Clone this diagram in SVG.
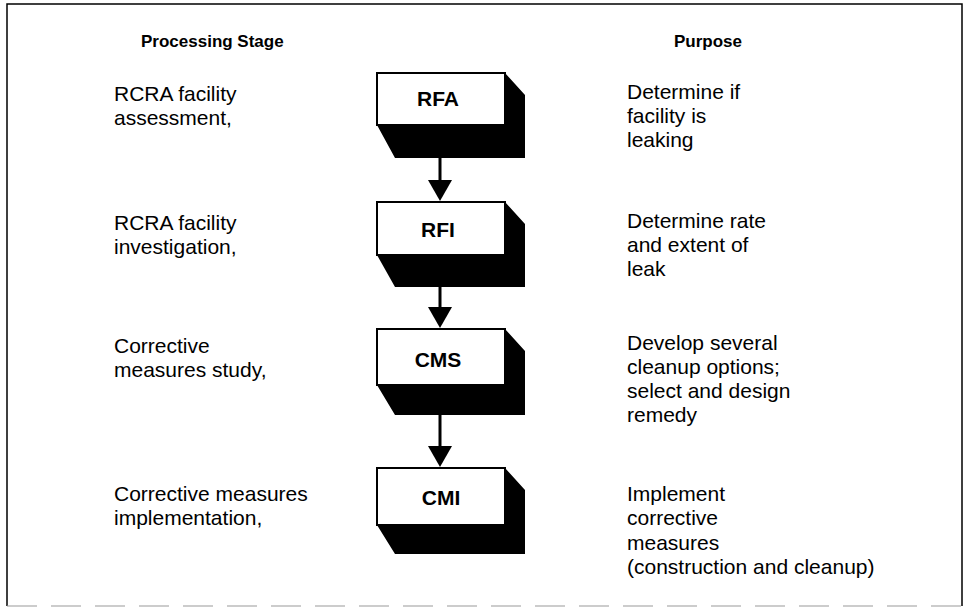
<svg xmlns="http://www.w3.org/2000/svg" width="965" height="609" viewBox="0 0 965 609">
<style>
.t{font-family:"Liberation Sans",Arial,sans-serif;font-size:21px;fill:#000}
.h{font-family:"Liberation Sans",Arial,sans-serif;font-size:17px;font-weight:bold;fill:#000}
.lb{font-family:"Liberation Sans",Arial,sans-serif;font-size:21px;font-weight:bold;fill:#000;text-anchor:middle}
.face{fill:#fff;stroke:#000;stroke-width:2}
.shade{fill:#000}
.conn line{stroke:#000;stroke-width:3}
.conn polygon{fill:#000}
</style>
<rect x="0" y="0" width="965" height="609" fill="#fff"/>
<g id="frame">
<path d="M7,606 L7,4 L962,4 L962,606" fill="none" stroke="#000" stroke-width="1.5"/>
<line x1="7" y1="606" x2="962" y2="606" stroke="#999" stroke-width="1.2" stroke-dasharray="30 14"/>
</g>
<g id="headers">
<text class="h" x="141" y="47">Processing Stage</text>
<text class="h" x="742" y="47" text-anchor="end">Purpose</text>
</g>
<g id="node-rfa">
<path class="shade" d="M377,125 L505,125 L505,73 L525,95 L525,158 L395,158 Z"/>
<rect class="face" x="377" y="73" width="128" height="52"/>
<text class="lb" x="438" y="106">RFA</text>
</g>
<g id="node-rfi">
<path class="shade" d="M377,255 L505,255 L505,202 L525,224 L525,287 L395,287 Z"/>
<rect class="face" x="377" y="202" width="128" height="53"/>
<text class="lb" x="438" y="237">RFI</text>
</g>
<g id="node-cms">
<path class="shade" d="M377,385 L505,385 L505,329 L525,351 L525,415 L395,415 Z"/>
<rect class="face" x="377" y="329" width="128" height="56"/>
<text class="lb" x="438" y="367">CMS</text>
</g>
<g id="node-cmi">
<path class="shade" d="M377,525 L505,525 L505,468 L525,490 L525,554 L395,554 Z"/>
<rect class="face" x="377" y="468" width="128" height="57"/>
<text class="lb" x="441" y="505">CMI</text>
</g>
<g id="connectors" class="conn">
<line x1="440" y1="158" x2="440" y2="182"/>
<polygon points="428,180 452,180 440,201"/>
<line x1="440" y1="287" x2="440" y2="309"/>
<polygon points="428,307 452,307 440,328"/>
<line x1="440" y1="415" x2="440" y2="448"/>
<polygon points="428,446 452,446 440,467"/>
</g>
<g id="stage-labels">
<text class="t" x="114" y="101">RCRA facility</text>
<text class="t" x="114" y="125">assessment,</text>
<text class="t" x="114" y="230">RCRA facility</text>
<text class="t" x="114" y="254">investigation,</text>
<text class="t" x="114" y="353">Corrective</text>
<text class="t" x="114" y="377">measures study,</text>
<text class="t" x="114" y="501">Corrective measures</text>
<text class="t" x="114" y="525">implementation,</text>
</g>
<g id="purpose-labels">
<text class="t" x="627" y="99">Determine if</text>
<text class="t" x="627" y="123">facility is</text>
<text class="t" x="627" y="147">leaking</text>
<text class="t" x="627" y="228">Determine rate</text>
<text class="t" x="627" y="252">and extent of</text>
<text class="t" x="627" y="276">leak</text>
<text class="t" x="627" y="350">Develop several</text>
<text class="t" x="627" y="374">cleanup options;</text>
<text class="t" x="627" y="398">select and design</text>
<text class="t" x="627" y="422">remedy</text>
<text class="t" x="627" y="501">Implement</text>
<text class="t" x="627" y="525">corrective</text>
<text class="t" x="627" y="550">measures</text>
<text class="t" x="627" y="574">(construction and cleanup)</text>
</g>
</svg>
